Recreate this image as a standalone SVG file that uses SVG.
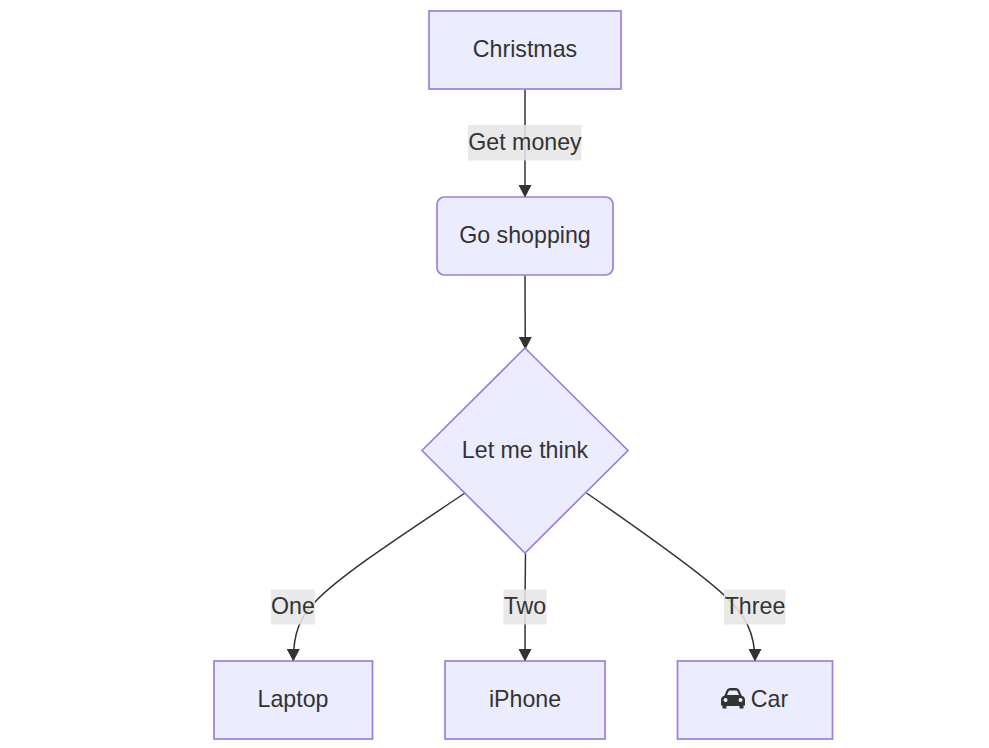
<svg xmlns="http://www.w3.org/2000/svg" width="989" height="748" viewBox="0 0 989 748">
<style>
.n{fill:#ECECFF;stroke:#9370DB;stroke-width:1.7;stroke-opacity:.9}
.e{fill:none;stroke:#333;stroke-width:1.5}
.t{font-family:"Liberation Sans",Arial,sans-serif;font-size:23.2px;fill:#333;text-anchor:middle;dominant-baseline:central}
.l{fill:#e6e6e6;fill-opacity:.88}
</style>
<defs><marker id="a" markerUnits="userSpaceOnUse" markerWidth="13" markerHeight="13" refX="12.500" refY="6.500" orient="auto"><path d="M0 0L12.500 6.500L0 13z" fill="#333"/></marker></defs>
<rect width="989" height="748" fill="#fff"/>
<g id="connectors">
<path class="e" marker-end="url(#a)" d="M525 89.500V197.500"/>
<path class="e" marker-end="url(#a)" d="M525 275.500C525 300 525.300 320 525.300 349.500"/>
<path class="e" marker-end="url(#a)" d="M465 493C410 530 340 575 315 602C300 618 293.300 632 293.300 661.500"/>
<path class="e" marker-end="url(#a)" d="M525.500 553.500C525 590 525 630 525 661.500"/>
<path class="e" marker-end="url(#a)" d="M586.500 493C640 530 700 572 725 596C745 615 755 632 755 661.500"/>
</g>
<g id="edge-labels">
<g><rect class="l" x="468" y="125" width="113.500" height="35.500"/><text class="t" x="525" y="141.500">Get money</text></g>
<g><rect class="l" x="271" y="589.500" width="44" height="35"/><text class="t" x="293" y="605.500">One</text></g>
<g><rect class="l" x="503.500" y="589.500" width="43" height="35"/><text class="t" x="525" y="605.500">Two</text></g>
<g><rect class="l" x="724" y="589.500" width="61.500" height="35"/><text class="t" x="755" y="605.500">Three</text></g>
</g>
<g id="christmas"><rect class="n" x="429" y="11" width="192" height="78"/><text class="t" x="525" y="48.500">Christmas</text></g>
<g id="shopping"><rect class="n" x="437" y="197" width="176" height="78" rx="7.500" ry="7.500"/><text class="t" x="525" y="234.500">Go shopping</text></g>
<g id="think"><polygon class="n" points="525,348 628,450.500 525,553 422,450.500"/><text class="t" x="525" y="450">Let me think</text></g>
<g id="laptop"><rect class="n" x="214" y="661" width="158.500" height="78"/><text class="t" x="293" y="698.500">Laptop</text></g>
<g id="iphone"><rect class="n" x="445" y="661" width="160" height="78"/><text class="t" x="525" y="698.500">iPhone</text></g>
<g id="car"><rect class="n" x="677.500" y="661" width="155" height="78"/>
<path fill="#333" fill-rule="evenodd" d="M726.500 690.500Q727.500 688 730 688H736Q738.500 688 739.500 690.500L741.500 695.500Q745 696.500 745 700V705.500H743.500V708.500H739.500V706H726.500V708.500H722.500V705.500H721V700Q721 696.500 724.500 695.500ZM727 695H739L737.500 691.500Q737 690.500 736 690.500H730Q729 690.500 728.500 691.500ZM725.500 698A2 2 0 1 0 725.600 702A2 2 0 1 0 725.500 698ZM740.500 698A2 2 0 1 0 740.600 702A2 2 0 1 0 740.500 698Z"/>
<text class="t" x="769.500" y="698.500">Car</text></g>
</svg>
